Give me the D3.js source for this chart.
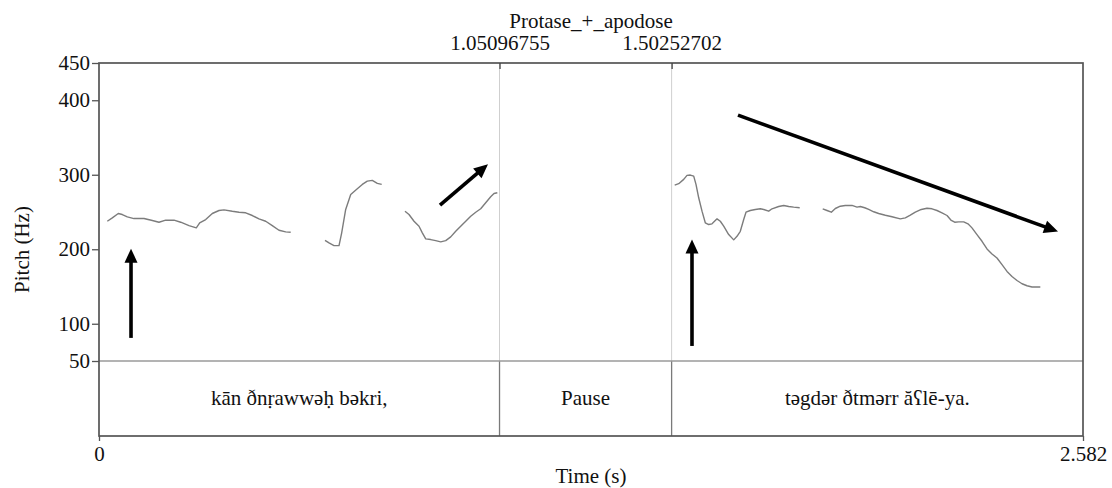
<!DOCTYPE html>
<html>
<head>
<meta charset="utf-8">
<script src="https://cdn.jsdelivr.net/npm/d3@7"></script>
<style>
  html, body { margin: 0; padding: 0; background: #fff; }
  svg text { font-family: "Liberation Serif", "Times New Roman", serif; fill: #111; }
</style>
</head>
<body>
<svg id="chart" width="1112" height="488"></svg>
<script>
// ---------- data ----------
const tierTitle = "Protase_+_apodose";
const boundaryTimes = [1.05096755, 1.50252702];
const boundaryLabels = ["1.05096755", "1.50252702"];
const intervalLabels = ["kān ðnṛawwəḥ bəkri,", "Pause", "təgdər ðtmərr ăʕlē-ya."];
const timeMax = 2.582;
const yTicks = [50, 100, 200, 300, 400, 450];
const xTickLabels = ["0", "2.582"];

const seg1T = [0.0218,0.0349,0.0506,0.0611,0.0743,0.0918,0.1181,0.1399,0.1574,0.1750,0.1968,0.2144,0.2362,0.2553,0.2642,0.2800,0.2973,0.3149,0.3280,0.3498,0.3674,0.3849,0.4023,0.4198,0.4374,0.4547,0.4723,0.4899,0.5030];
const seg1F = [237.6,242.2,248.0,246.6,243.5,241.2,241.2,238.6,236.3,239.0,239.0,236.3,231.8,228.7,235.4,239.9,248.0,252.0,252.9,251.0,249.7,248.9,245.3,240.8,237.6,231.8,225.5,223.3,222.8];

const seg2T = [0.5930,0.6035,0.6166,0.6298,0.6368,0.6473,0.6605,0.6778,0.6909,0.7040,0.7171,0.7303,0.7418];
const seg2F = [212.0,208.5,204.9,204.9,222.0,253.4,273.6,281.2,287.0,291.5,292.4,288.4,287.0];

const seg3T = [0.8029,0.8134,0.8266,0.8397,0.8484,0.8573,0.8704,0.8835,0.8967,0.9098,0.9229,0.9360,0.9491,0.9623,0.9754,0.9885,1.0016,1.0147,1.0278,1.0365,1.0452];
const seg3F = [251.1,246.6,237.6,230.9,222.0,213.9,213.0,211.6,209.9,211.6,216.6,224.1,230.9,237.6,244.3,249.7,254.3,262.4,270.5,274.9,275.9];

const seg4T = [1.5106,1.5211,1.5343,1.5429,1.5516,1.5605,1.5665,1.5736,1.5823,1.5909,1.5999,1.6085,1.6217,1.6303,1.6392,1.6523,1.6655,1.6741,1.6828,1.6917,1.6977,1.7090,1.7221,1.7353,1.7442,1.7573,1.7660,1.7835,1.7967,1.8098,1.8229,1.8386];
const seg4F = [286.1,288.0,293.8,299.2,299.6,298.2,287.0,269.1,251.1,235.5,233.2,234.1,240.8,237.6,230.9,219.7,212.6,217.4,224.1,239.9,249.7,252.0,253.4,254.3,253.4,251.1,254.3,257.4,258.8,257.4,256.5,255.7];

const seg5T = [1.8990,1.9103,1.9216,1.9321,1.9452,1.9583,1.9759,1.9890,1.9977,2.0092,2.0197,2.0328,2.0459,2.0633,2.0809,2.1026,2.1158,2.1289,2.1420,2.1577,2.1727,2.1858,2.1989,2.2120,2.2252,2.2364,2.2453,2.2558,2.2690,2.2802,2.2907,2.3038,2.3170,2.3301,2.3432,2.3563,2.3695,2.3826,2.3957,2.4088,2.4220,2.4351,2.4482,2.4613,2.4700];
const seg5F = [254.3,252.0,249.7,254.7,257.8,258.8,258.8,256.5,257.4,255.7,253.4,250.3,248.0,245.7,243.6,240.8,242.2,245.7,249.7,253.4,255.1,254.3,252.0,248.9,245.3,238.6,236.3,236.8,236.8,234.1,228.7,219.7,210.7,200.4,193.7,188.3,179.3,170.2,163.5,158.1,153.7,151.0,149.3,149.3,149.3];

// annotation arrows: [t0, f0, t1, f1] (tail -> tip)
const arrowTail1 = [0.0840, 81.0];   const arrowTip1 = [0.0840, 200.8];
const arrowTail2 = [0.8948, 259.2];  const arrowTip2 = [1.0207, 314.0];
const arrowTail3 = [1.6767, 380.0];  const arrowTip3 = [2.5164, 223.7];
const arrowTail4 = [1.5560, 70.2];   const arrowTip4 = [1.5560, 213.0];

// ---------- layout ----------
const L = 99, R = 1083, T = 63, M = 361, B = 436;
const FS = 21;
const svg = d3.select("#chart");

const x = d3.scaleLinear().domain([0, timeMax]).range([L, R]);
const y = d3.scaleLinear().domain([50, 450]).range([M, T]);

// boundary lines in pitch area (light) and tier (darker)
svg.append("g").selectAll("line").data(boundaryTimes).join("line")
  .attr("x1", d => x(d)).attr("x2", d => x(d))
  .attr("y1", T).attr("y2", M)
  .attr("stroke", "#cfcfcf").attr("stroke-width", 1);
svg.append("g").selectAll("line").data(boundaryTimes).join("line")
  .attr("x1", d => x(d)).attr("x2", d => x(d))
  .attr("y1", M).attr("y2", B)
  .attr("stroke", "#7a7a7a").attr("stroke-width", 1.3);

// tier separator line at 50 Hz
svg.append("line")
  .attr("x1", L).attr("x2", R).attr("y1", y(50)).attr("y2", y(50))
  .attr("stroke", "#9a9a9a").attr("stroke-width", 1.3);

// pitch curves
const segments = [[seg1T, seg1F], [seg2T, seg2F], [seg3T, seg3F], [seg4T, seg4F], [seg5T, seg5F]];
const line = d3.line().x(d => x(d[0])).y(d => y(d[1]));
svg.append("g").selectAll("path").data(segments).join("path")
  .attr("d", s => line(s[0].map((t, i) => [t, s[1][i]])))
  .attr("fill", "none").attr("stroke", "#7c7c7c").attr("stroke-width", 1.4)
  .attr("stroke-linejoin", "round");

// frame
svg.append("rect")
  .attr("x", L).attr("y", T).attr("width", R - L).attr("height", B - T)
  .attr("fill", "none").attr("stroke", "#555").attr("stroke-width", 1.7);

// y axis
const yAxis = svg.append("g").attr("transform", `translate(${L},0)`)
  .call(d3.axisLeft(y).tickValues(yTicks).tickSize(7).tickPadding(2).tickFormat(d3.format("d")));
yAxis.select(".domain").remove();
yAxis.selectAll("line").attr("stroke", "#555").attr("stroke-width", 1.3);
yAxis.selectAll("text").attr("font-size", FS).attr("font-family", "Liberation Serif").attr("fill", "#111");

// bottom time axis
const xAxis = svg.append("g").attr("transform", `translate(0,${B})`)
  .call(d3.axisBottom(x).tickValues([0, timeMax]).tickSize(5).tickPadding(5)
    .tickFormat((d, i) => xTickLabels[i]));
xAxis.select(".domain").remove();
xAxis.selectAll("line").attr("stroke", "#555").attr("stroke-width", 1.3);
xAxis.selectAll("text").attr("font-size", FS).attr("font-family", "Liberation Serif").attr("fill", "#111");

// top boundary axis
const topAxis = svg.append("g").attr("transform", `translate(0,${T})`)
  .call(d3.axisTop(x).tickValues(boundaryTimes).tickSizeInner(-6).tickSizeOuter(0).tickPadding(13)
    .tickFormat((d, i) => boundaryLabels[i]));
topAxis.select(".domain").remove();
topAxis.selectAll("line").attr("stroke", "#444").attr("stroke-width", 1.3);
topAxis.selectAll("text").attr("font-size", FS).attr("font-family", "Liberation Serif").attr("fill", "#111");

// tier title
svg.append("text").attr("x", (L + R) / 2).attr("y", 28)
  .attr("text-anchor", "middle").attr("font-size", FS).text(tierTitle);

// interval labels
const edges = [0, ...boundaryTimes, timeMax];
svg.append("g").selectAll("text").data(intervalLabels).join("text")
  .attr("x", (d, i) => (x(edges[i]) + x(edges[i + 1])) / 2)
  .attr("y", 405)
  .attr("text-anchor", "middle").attr("font-size", FS).text(d => d);

// axis titles
svg.append("text").attr("x", (L + R) / 2).attr("y", 483)
  .attr("text-anchor", "middle").attr("font-size", FS).text("Time (s)");
svg.append("text").attr("transform", `translate(29,${(T + B) / 2}) rotate(-90)`)
  .attr("text-anchor", "middle").attr("font-size", FS).text("Pitch (Hz)");

// arrows
const arrows = [[arrowTail1, arrowTip1], [arrowTail2, arrowTip2], [arrowTail3, arrowTip3], [arrowTail4, arrowTip4]];
const ag = svg.append("g");
arrows.forEach(([a, b]) => {
  const x0 = x(a[0]), y0 = y(a[1]), x1 = x(b[0]), y1 = y(b[1]);
  const dx = x1 - x0, dy = y1 - y0, len = Math.hypot(dx, dy);
  const ux = dx / len, uy = dy / len;
  const headL = 14, headW = 6.5;
  const bx = x1 - ux * headL, by = y1 - uy * headL;
  ag.append("line").attr("x1", x0).attr("y1", y0).attr("x2", bx + ux * 1).attr("y2", by + uy * 1)
    .attr("stroke", "#000").attr("stroke-width", 3.6);
  ag.append("path")
    .attr("d", `M${x1},${y1} L${bx - uy * headW},${by + ux * headW} L${bx + uy * headW},${by - ux * headW} Z`)
    .attr("fill", "#000");
});
</script>
</body>
</html>
